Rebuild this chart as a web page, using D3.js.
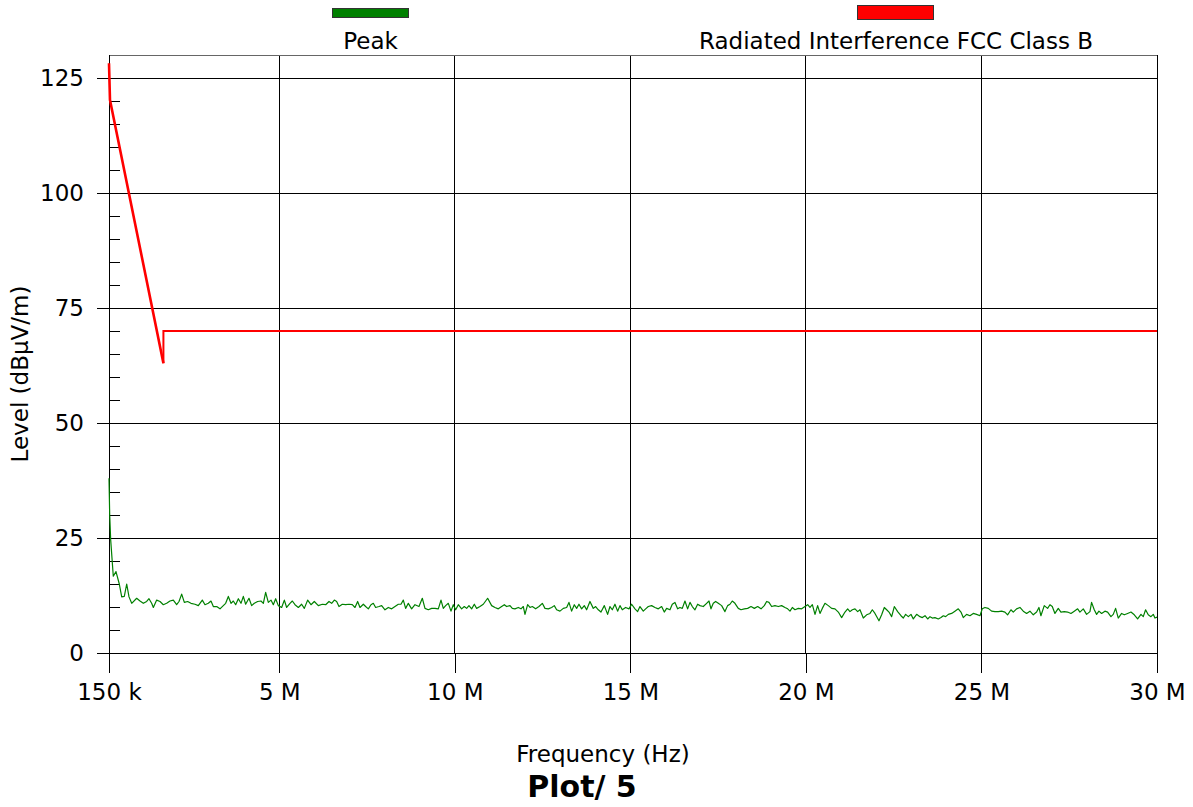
<!DOCTYPE html>
<html>
<head>
<meta charset="utf-8">
<script src="https://cdn.jsdelivr.net/npm/d3@7"></script>
<style>
  html, body { margin: 0; padding: 0; background: #fff; }
  svg { display: block; font-family: "DejaVu Sans", Verdana, sans-serif; }
</style>
</head>
<body>
<svg id="chart" width="1193" height="807"></svg>
<script>
// ---- data ----
const xTickValues = [0.15, 5, 10, 15, 20, 25, 30];          // MHz
const xTickLabels = ["150 k", "5 M", "10 M", "15 M", "20 M", "25 M", "30 M"];
const yTickValues = [0, 25, 50, 75, 100, 125];
const yMinorTicks = [5,10,15,20,30,35,40,45,55,60,65,70,80,85,90,95,105,110,115,120];
const seriesNames = ["Peak", "Radiated Interference FCC Class B"];
const seriesColors = ["#008000", "#ff0000"];

// limit line (frequency MHz, level dBµV/m)
const limitFreq  = [0.15, 0.178, 1.7, 1.7, 30];
const limitLevel = [128.2, 120.2, 63.0, 70.0, 70.0];

// Peak trace (frequency MHz)
const peakFreq = [
  0.15, 0.17, 0.198, 0.272, 0.349, 0.443, 0.512, 0.586, 0.654, 0.72, 0.797,
  0.938, 1.033, 1.128, 1.223, 1.289, 1.365, 1.413, 1.508, 1.603, 1.697, 1.792, 1.887, 1.982, 2.077, 2.144,
  2.220, 2.296, 2.390, 2.485, 2.599, 2.694, 2.808, 2.884, 2.979, 3.055, 3.122, 3.217, 3.311, 3.406, 3.473,
  3.549, 3.625, 3.691, 3.758, 3.834, 3.910, 3.976, 4.042, 4.137, 4.213, 4.289, 4.384, 4.479, 4.546, 4.612,
  4.688, 4.764, 4.830, 4.897, 4.973, 5.068, 5.144, 5.210, 5.305, 5.372, 5.448, 5.543, 5.637, 5.713, 5.808,
  5.903, 5.998, 6.112,
  6.226, 6.321, 6.416, 6.492, 6.568, 6.634, 6.701, 6.796, 6.890, 6.985, 7.080, 7.156, 7.232, 7.299, 7.394,
  7.460, 7.536, 7.612, 7.678, 7.745, 7.840, 7.916, 8.011, 8.106, 8.201, 8.296, 8.391, 8.466, 8.533, 8.599,
  8.675, 8.770, 8.865, 8.979, 9.074, 9.150, 9.245, 9.340, 9.435, 9.530, 9.606, 9.672, 9.739, 9.815, 9.891,
  9.957, 10.024, 10.099, 10.194, 10.270, 10.337, 10.403, 10.479, 10.555, 10.621, 10.716, 10.811, 10.935,
  11.049, 11.144, 11.239, 11.334, 11.410, 11.476, 11.571, 11.638, 11.713, 11.808, 11.884, 11.951, 11.998,
  12.074, 12.141,
  12.207, 12.302, 12.397, 12.492, 12.568, 12.663, 12.758, 12.833, 12.900, 12.995, 13.090, 13.185, 13.251,
  13.327, 13.403, 13.470, 13.536, 13.612, 13.688, 13.754, 13.849, 13.944, 14.011, 14.087, 14.163, 14.258,
  14.352, 14.419, 14.485, 14.561, 14.637, 14.704, 14.770, 14.865, 14.960, 15.036, 15.131, 15.207, 15.273,
  15.368, 15.435, 15.511, 15.606, 15.701, 15.796, 15.891, 15.966, 16.033, 16.128, 16.194, 16.270, 16.346,
  16.413, 16.479, 16.555, 16.631, 16.698, 16.764, 16.840, 16.916, 16.982, 17.077, 17.172, 17.239, 17.296,
  17.362, 17.429, 17.505, 17.600, 17.694, 17.770, 17.837, 17.903, 17.979, 18.074,
  18.151, 18.246, 18.341, 18.436, 18.531, 18.626, 18.721, 18.815, 18.882, 18.948, 19.024, 19.119, 19.214,
  19.309, 19.404, 19.480, 19.547, 19.613, 19.689, 19.784, 19.879, 19.974, 20.050, 20.116, 20.183, 20.259,
  20.334, 20.401, 20.467, 20.543, 20.638, 20.733, 20.828, 20.923, 21.018, 21.113, 21.189, 21.255, 21.322,
  21.398, 21.474, 21.540, 21.635, 21.730, 21.825, 21.892, 21.967, 22.081, 22.157, 22.233, 22.300, 22.366,
  22.442, 22.518, 22.613, 22.708, 22.774, 22.841, 22.917, 22.993, 23.059, 23.154, 23.249, 23.316, 23.392,
  23.468, 23.534, 23.600, 23.676, 23.771, 23.847, 23.914, 23.980, 24.056,
  24.150, 24.245, 24.340, 24.416, 24.482, 24.577, 24.672, 24.767, 24.862, 24.957, 25.023, 25.099, 25.194,
  25.289, 25.384, 25.479, 25.574, 25.669, 25.745, 25.840, 25.906, 26.001, 26.096, 26.191, 26.286, 26.381,
  26.476, 26.571, 26.637, 26.694, 26.789, 26.884, 26.951, 27.017, 27.093, 27.188, 27.264, 27.359, 27.454,
  27.549, 27.644, 27.739, 27.805, 27.900, 27.995, 28.090, 28.137, 28.213, 28.280, 28.346, 28.422, 28.517,
  28.593, 28.688, 28.754, 28.821, 28.897, 28.992, 29.068, 29.163, 29.258, 29.353, 29.448, 29.543, 29.609,
  29.675, 29.751, 29.827, 29.894, 29.941, 30.0
];
// Peak trace (level dBµV/m)
const peakLevel = [
  38.0, 30.0, 24.6, 16.7, 17.7, 15.0, 12.2, 12.3, 15.0, 12.2, 10.8,
  11.9, 11.3, 10.8, 11.2, 11.8, 10.8, 9.9, 11.5, 11.2, 10.5, 10.8, 11.3, 11.5, 10.5, 11.2,
  12.8, 11.0, 11.2, 10.8, 10.6, 10.3, 11.5, 10.5, 10.8, 11.3, 10.1, 10.1, 9.6, 10.3, 10.8,
  12.3, 10.8, 11.3, 10.5, 11.8, 10.8, 12.3, 10.6, 11.9, 10.3, 10.8, 11.2, 11.3, 10.8, 13.2,
  11.0, 11.5, 10.5, 11.8, 10.3, 9.9, 11.5, 9.9, 10.8, 11.3, 10.5, 9.9, 10.6, 9.7, 11.5,
  10.5, 11.2, 10.3,
  10.6, 10.5, 11.2, 10.8, 11.5, 11.2, 10.1, 10.6, 10.5, 10.6, 10.5, 9.9, 11.2, 9.9, 10.6,
  10.1, 9.6, 10.5, 10.8, 9.9, 10.1, 10.3, 9.4, 9.9, 9.6, 10.1, 10.6, 10.6, 11.5, 9.7,
  10.8, 9.6, 10.5, 10.1, 11.9, 9.7, 9.4, 9.7, 9.7, 9.6, 11.5, 9.7, 10.3, 10.8, 9.1,
  10.5, 9.4, 10.5, 9.6, 10.1, 9.7, 10.3, 9.6, 10.6, 9.7, 10.1, 10.6, 11.9,
  10.3, 9.9, 9.6, 10.1, 10.5, 10.1, 10.3, 9.7, 9.6, 9.9, 9.6, 10.1, 8.4,
  10.5, 9.9,
  10.1, 9.6, 10.1, 10.8, 9.7, 9.6, 9.9, 10.3, 9.4, 9.1, 9.7, 9.9, 11.0,
  9.1, 10.5, 9.7, 10.6, 9.6, 10.3, 9.4, 11.2, 9.7, 10.1, 9.4, 8.9, 10.3,
  8.4, 10.1, 9.4, 10.6, 9.1, 10.3, 9.4, 9.9, 9.6, 10.6, 9.6, 9.0, 10.1,
  9.1, 9.6, 10.1, 10.3, 9.9, 9.6, 10.1, 8.9, 9.7, 9.4, 10.6, 11.0, 9.6,
  9.9, 9.7, 11.3, 9.6, 11.0, 10.1, 9.4, 10.6, 10.3, 10.1, 10.8, 11.3, 9.6,
  10.8, 11.2, 10.8, 10.3, 9.0, 10.3, 10.6, 11.3, 10.8, 9.7,
  9.4, 9.6, 9.7, 10.1, 9.7, 10.1, 9.6, 10.3, 11.2, 11.0, 10.1, 10.3, 10.1,
  10.3, 9.9, 9.6, 9.1, 9.9, 9.4, 9.7, 9.6, 10.1, 10.5, 9.9, 10.5, 8.4,
  10.3, 8.6, 9.7, 10.8, 10.3, 9.7, 9.6, 8.9, 7.7, 8.9, 9.6, 9.0, 9.4,
  9.6, 9.0, 9.4, 7.6, 8.3, 8.6, 9.4, 8.6, 7.0, 8.3, 9.9, 9.4, 8.9,
  7.9, 10.1, 9.0, 8.1, 7.6, 8.4, 7.9, 8.4, 7.4, 8.4, 7.9, 7.7, 8.1,
  7.4, 7.9, 7.6, 7.7, 7.4, 7.7, 8.1, 7.9, 8.4,
  8.6, 9.1, 9.6, 8.9, 7.7, 8.4, 8.1, 8.6, 8.4, 8.1, 9.6, 9.9, 9.7,
  9.1, 9.0, 9.0, 9.1, 8.9, 8.3, 9.4, 8.9, 9.6, 9.9, 9.1, 8.6, 9.1,
  8.3, 8.9, 9.9, 8.1, 10.3, 9.7, 10.5, 10.1, 8.6, 9.7, 8.9, 9.0, 8.9,
  8.6, 9.1, 9.6, 8.9, 9.6, 8.4, 9.0, 11.0, 9.4, 8.4, 9.1, 8.6, 9.1,
  8.9, 7.9, 8.4, 9.7, 7.6, 8.6, 8.3, 8.6, 8.9, 8.3, 7.4, 8.4, 7.9,
  9.4, 8.3, 7.9, 8.4, 7.6, 7.8
];

// ---- drawing ----
const svg = d3.select("#chart");
const x = d3.scaleLinear().domain([0.15, 30]).range([109, 1157]);
const y = d3.scaleLinear().domain([0, 130]).range([653, 55]);
const FONT = 23;

// grid
svg.append("g").selectAll("line").data(yTickValues).join("line")
  .attr("x1", x(0.15)).attr("x2", x(30))
  .attr("y1", d => y(d)).attr("y2", d => y(d))
  .attr("stroke", "#000").attr("stroke-width", 1).attr("shape-rendering", "crispEdges");
svg.append("g").selectAll("line").data(xTickValues).join("line")
  .attr("x1", d => x(d)).attr("x2", d => x(d))
  .attr("y1", y(130)).attr("y2", y(0))
  .attr("stroke", "#000").attr("stroke-width", 1).attr("shape-rendering", "crispEdges");
// frame top
svg.append("line").attr("x1", x(0.15)).attr("x2", x(30)).attr("y1", y(130)).attr("y2", y(130))
  .attr("stroke", "#666").attr("shape-rendering", "crispEdges");

// x axis
const xAxis = d3.axisBottom(x).tickValues(xTickValues)
  .tickFormat((d, i) => xTickLabels[i]).tickSizeInner(20).tickSizeOuter(0).tickPadding(11);
const gx = svg.append("g").attr("transform", `translate(0,${y(0)})`).call(xAxis);
gx.select(".domain").remove();
gx.selectAll("line").attr("stroke", "#000").attr("shape-rendering", "crispEdges");
gx.selectAll("text").attr("font-size", FONT).attr("fill", "#000").attr("font-family", "DejaVu Sans");

// y axis (major, outside + labels)
const yAxis = d3.axisLeft(y).tickValues(yTickValues).tickSizeInner(12).tickSizeOuter(0).tickPadding(13);
const gy = svg.append("g").attr("transform", `translate(${x(0.15)},0)`).call(yAxis);
gy.select(".domain").remove();
gy.selectAll("line").attr("stroke", "#000").attr("shape-rendering", "crispEdges");
gy.selectAll("text").attr("font-size", FONT).attr("fill", "#000").attr("font-family", "DejaVu Sans");

// y inner ticks (major + minor)
const yInner = d3.axisRight(y).tickValues(yTickValues.concat(yMinorTicks)).tickSize(11).tickFormat("");
const gyi = svg.append("g").attr("transform", `translate(${x(0.15)},0)`).call(yInner);
gyi.select(".domain").remove();
gyi.selectAll("line").attr("stroke", "#000").attr("shape-rendering", "crispEdges");

// left axis line (extends below 0)
svg.append("line").attr("x1", x(0.15)).attr("x2", x(0.15)).attr("y1", y(130)).attr("y2", y(0) + 20)
  .attr("stroke", "#000").attr("shape-rendering", "crispEdges");
svg.append("line").attr("x1", x(30)).attr("x2", x(30)).attr("y1", y(130)).attr("y2", y(0))
  .attr("stroke", "#000").attr("shape-rendering", "crispEdges");

// series
const line = d3.line().x(d => x(d[0])).y(d => y(d[1]));
const peakData = peakFreq.map((f, i) => [f, peakLevel[i]]);
const limitData = limitFreq.map((f, i) => [f, limitLevel[i]]);

svg.append("path").datum(peakData).attr("d", line)
  .attr("fill", "none").attr("stroke", seriesColors[0]).attr("stroke-width", 1.2).attr("stroke-linejoin", "round");
// sloped part of the limit drawn a little heavier, as in the reference
svg.append("path").datum(limitData.slice(0, 3)).attr("d", line)
  .attr("fill", "none").attr("stroke", seriesColors[1]).attr("stroke-width", 2.6).attr("stroke-linejoin", "round");
svg.append("path").datum(limitData.slice(2)).attr("d", line)
  .attr("fill", "none").attr("stroke", seriesColors[1]).attr("stroke-width", 2).attr("stroke-linejoin", "miter");

// legend
const legendItems = [
  { name: seriesNames[0], color: seriesColors[0], cx: 370.5, ry: 8, rh: 9 },
  { name: seriesNames[1], color: seriesColors[1], cx: 895, ry: 5, rh: 14 }
];
const lg = svg.append("g").selectAll("g").data(legendItems).join("g");
lg.append("rect").attr("x", d => d.cx - 38).attr("y", d => d.ry).attr("width", 76).attr("height", d => d.rh)
  .attr("fill", d => d.color).attr("stroke", "#333").attr("stroke-width", 1).attr("shape-rendering", "crispEdges");
lg.append("text").attr("x", (d, i) => i === 0 ? 370.5 : 896).attr("y", 49).attr("text-anchor", "middle")
  .attr("font-size", FONT).attr("fill", "#000").text(d => d.name);

// axis titles
svg.append("text").attr("x", 603).attr("y", 762).attr("text-anchor", "middle")
  .attr("font-size", FONT).attr("fill", "#000").text("Frequency (Hz)");
svg.append("text").attr("transform", "translate(28,374) rotate(-90)").attr("text-anchor", "middle")
  .attr("font-size", FONT).attr("fill", "#000").text("Level (dBµV/m)");
svg.append("text").attr("x", 582).attr("y", 797).attr("text-anchor", "middle")
  .attr("font-size", 30).attr("font-weight", "bold").attr("fill", "#000").text("Plot/ 5");
</script>
</body>
</html>
